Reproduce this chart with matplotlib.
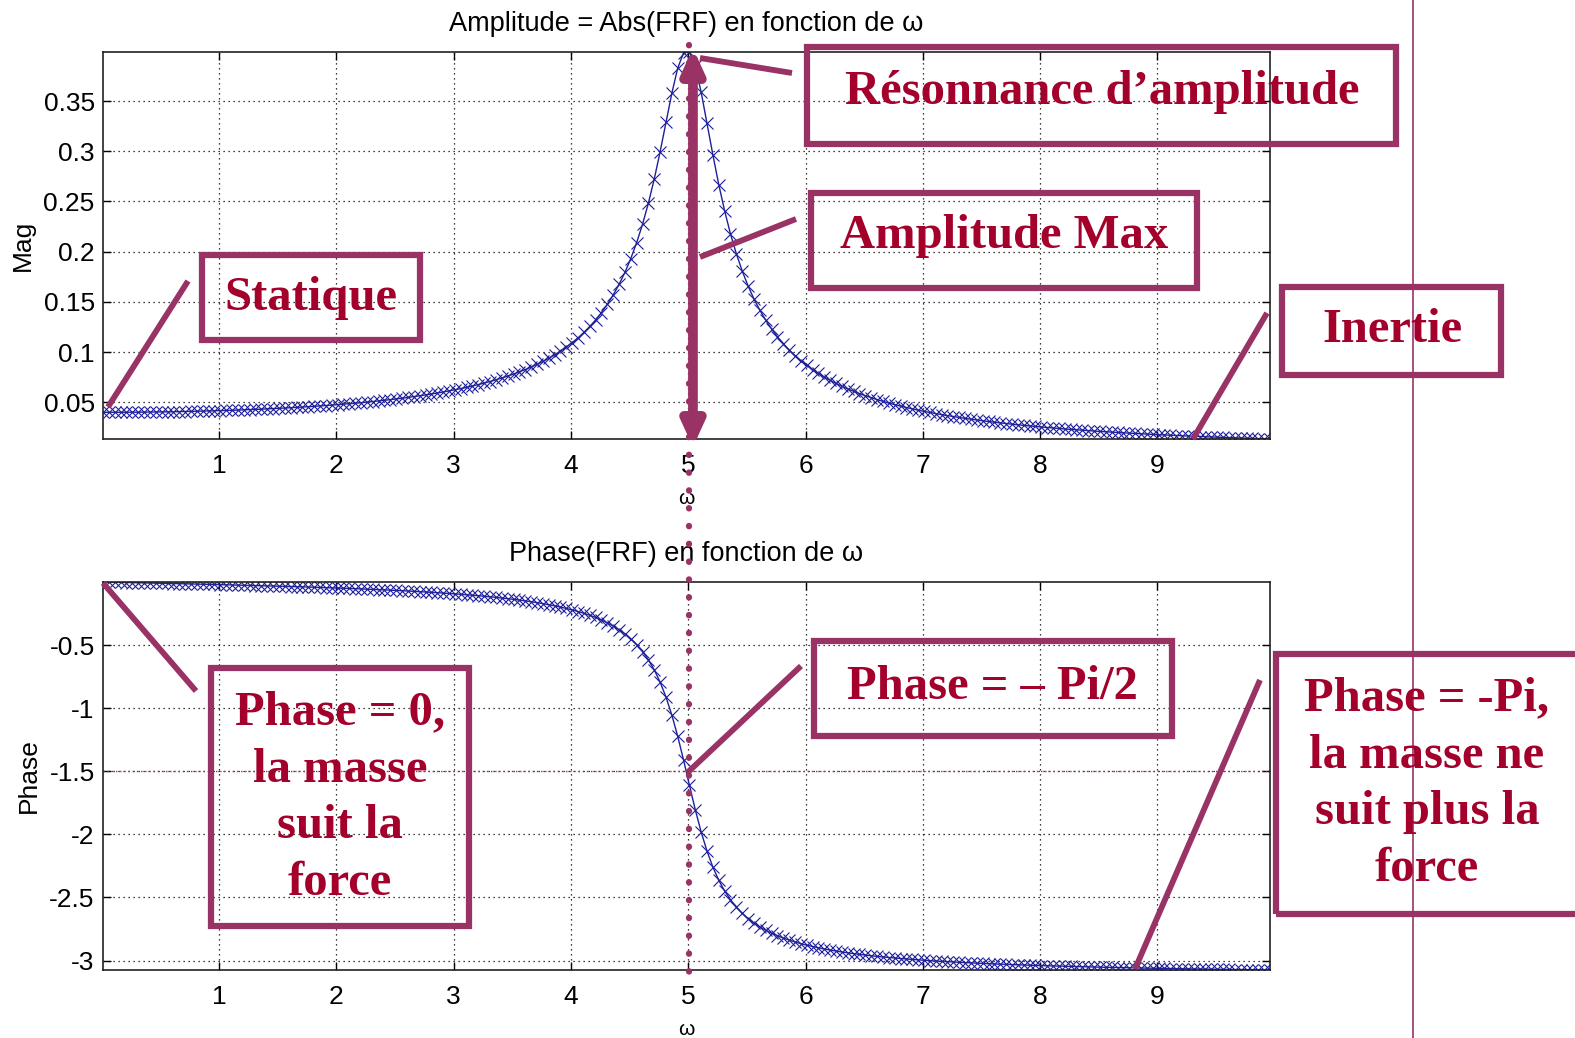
import numpy as np
import matplotlib
matplotlib.use("Agg")
import matplotlib.pyplot as plt
from matplotlib.lines import Line2D
from matplotlib.patches import Rectangle

# frequency response of the mass-spring-damper, sampled every 0.05 rad/s
omega = [
    0.01, 0.06, 0.11, 0.16, 0.21, 0.26, 0.31, 0.36, 0.41, 0.46,
    0.51, 0.56, 0.61, 0.66, 0.71, 0.76, 0.81, 0.86, 0.91, 0.96,
    1.01, 1.06, 1.11, 1.16, 1.21, 1.26, 1.31, 1.36, 1.41, 1.46,
    1.51, 1.56, 1.61, 1.66, 1.71, 1.76, 1.81, 1.86, 1.91, 1.96,
    2.01, 2.06, 2.11, 2.16, 2.21, 2.26, 2.31, 2.36, 2.41, 2.46,
    2.51, 2.56, 2.61, 2.66, 2.71, 2.76, 2.81, 2.86, 2.91, 2.96,
    3.01, 3.06, 3.11, 3.16, 3.21, 3.26, 3.31, 3.36, 3.41, 3.46,
    3.51, 3.56, 3.61, 3.66, 3.71, 3.76, 3.81, 3.86, 3.91, 3.96,
    4.01, 4.06, 4.11, 4.16, 4.21, 4.26, 4.31, 4.36, 4.41, 4.46,
    4.51, 4.56, 4.61, 4.66, 4.71, 4.76, 4.81, 4.86, 4.91, 4.96,
    5.01, 5.06, 5.11, 5.16, 5.21, 5.26, 5.31, 5.36, 5.41, 5.46,
    5.51, 5.56, 5.61, 5.66, 5.71, 5.76, 5.81, 5.86, 5.91, 5.96,
    6.01, 6.06, 6.11, 6.16, 6.21, 6.26, 6.31, 6.36, 6.41, 6.46,
    6.51, 6.56, 6.61, 6.66, 6.71, 6.76, 6.81, 6.86, 6.91, 6.96,
    7.01, 7.06, 7.11, 7.16, 7.21, 7.26, 7.31, 7.36, 7.41, 7.46,
    7.51, 7.56, 7.61, 7.66, 7.71, 7.76, 7.81, 7.86, 7.91, 7.96,
    8.01, 8.06, 8.11, 8.16, 8.21, 8.26, 8.31, 8.36, 8.41, 8.46,
    8.51, 8.56, 8.61, 8.66, 8.71, 8.76, 8.81, 8.86, 8.91, 8.96,
    9.01, 9.06, 9.11, 9.16, 9.21, 9.26, 9.31, 9.36, 9.41, 9.46,
    9.51, 9.56, 9.61, 9.66, 9.71, 9.76, 9.81, 9.86, 9.91, 9.96,
]

mag = [
    0.04000, 0.04001, 0.04002, 0.04004, 0.04007, 0.04011, 0.04015, 0.04021, 0.04027, 0.04034,
    0.04042, 0.04051, 0.04060, 0.04071, 0.04082, 0.04094, 0.04107, 0.04121, 0.04136, 0.04152,
    0.04169, 0.04187, 0.04206, 0.04226, 0.04247, 0.04270, 0.04293, 0.04318, 0.04343, 0.04371,
    0.04399, 0.04429, 0.04460, 0.04492, 0.04526, 0.04562, 0.04599, 0.04638, 0.04679, 0.04721,
    0.04766, 0.04812, 0.04860, 0.04911, 0.04964, 0.05019, 0.05077, 0.05137, 0.05200, 0.05266,
    0.05336, 0.05408, 0.05484, 0.05564, 0.05647, 0.05735, 0.05827, 0.05924, 0.06026, 0.06133,
    0.06246, 0.06365, 0.06490, 0.06623, 0.06764, 0.06913, 0.07071, 0.07239, 0.07418, 0.07608,
    0.07812, 0.08029, 0.08262, 0.08512, 0.08781, 0.09071, 0.09385, 0.09724, 0.1009, 0.1050,
    0.1094, 0.1142, 0.1196, 0.1255, 0.1320, 0.1394, 0.1476, 0.1569, 0.1674, 0.1794,
    0.1932, 0.2090, 0.2273, 0.2483, 0.2724, 0.2995, 0.3287, 0.3578, 0.3828, 0.3981,
    0.3989, 0.3845, 0.3589, 0.3279, 0.2964, 0.2669, 0.2407, 0.2177, 0.1979, 0.1808,
    0.1659, 0.1530, 0.1418, 0.1319, 0.1231, 0.1153, 0.1084, 0.1022, 0.09654, 0.09145,
    0.08681, 0.08259, 0.07871, 0.07515, 0.07187, 0.06883, 0.06601, 0.06340, 0.06096, 0.05868,
    0.05655, 0.05456, 0.05268, 0.05092, 0.04925, 0.04768, 0.04620, 0.04479, 0.04346, 0.04220,
    0.04100, 0.03985, 0.03876, 0.03772, 0.03673, 0.03579, 0.03488, 0.03401, 0.03318, 0.03239,
    0.03162, 0.03089, 0.03018, 0.02950, 0.02885, 0.02822, 0.02762, 0.02704, 0.02647, 0.02593,
    0.02540, 0.02490, 0.02441, 0.02393, 0.02347, 0.02303, 0.02260, 0.02218, 0.02178, 0.02138,
    0.02100, 0.02063, 0.02028, 0.01993, 0.01959, 0.01926, 0.01894, 0.01863, 0.01832, 0.01803,
    0.01774, 0.01746, 0.01719, 0.01693, 0.01667, 0.01641, 0.01617, 0.01593, 0.01569, 0.01546,
    0.01524, 0.01502, 0.01481, 0.01460, 0.01440, 0.01420, 0.01400, 0.01381, 0.01363, 0.01345,
]

phase = [
    -0.0002, -0.0012, -0.0022, -0.0032, -0.0042, -0.0052, -0.0062, -0.0072, -0.0083, -0.0093,
    -0.0103, -0.0113, -0.0124, -0.0134, -0.0145, -0.0156, -0.0166, -0.0177, -0.0188, -0.0199,
    -0.0211, -0.0222, -0.0234, -0.0245, -0.0257, -0.0269, -0.0281, -0.0294, -0.0306, -0.0319,
    -0.0332, -0.0346, -0.0359, -0.0373, -0.0387, -0.0402, -0.0416, -0.0431, -0.0447, -0.0463,
    -0.0479, -0.0496, -0.0513, -0.0531, -0.0549, -0.0567, -0.0587, -0.0606, -0.0627, -0.0648,
    -0.0670, -0.0693, -0.0716, -0.0741, -0.0766, -0.0792, -0.0820, -0.0848, -0.0878, -0.0909,
    -0.0941, -0.0975, -0.1011, -0.1048, -0.1088, -0.1129, -0.1173, -0.1219, -0.1268, -0.1320,
    -0.1375, -0.1434, -0.1497, -0.1564, -0.1636, -0.1714, -0.1798, -0.1888, -0.1986, -0.2094,
    -0.2211, -0.2340, -0.2482, -0.2640, -0.2812, -0.3013, -0.3237, -0.3490, -0.3781, -0.4115,
    -0.4506, -0.4967, -0.5514, -0.6170, -0.6965, -0.7934, -0.9115, -1.0542, -1.2223, -1.4115,
    -1.6107, -1.8050, -1.9813, -2.1330, -2.2594, -2.3633, -2.4484, -2.5186, -2.5767, -2.6255,
    -2.6668, -2.7022, -2.7327, -2.7592, -2.7824, -2.8030, -2.8212, -2.8376, -2.8523, -2.8656,
    -2.8777, -2.8887, -2.8988, -2.9080, -2.9166, -2.9244, -2.9318, -2.9386, -2.9449, -2.9509,
    -2.9565, -2.9617, -2.9666, -2.9712, -2.9756, -2.9797, -2.9836, -2.9873, -2.9909, -2.9942,
    -2.9974, -3.0004, -3.0034, -3.0061, -3.0088, -3.0113, -3.0138, -3.0161, -3.0183, -3.0205,
    -3.0226, -3.0246, -3.0265, -3.0284, -3.0301, -3.0319, -3.0335, -3.0351, -3.0367, -3.0382,
    -3.0397, -3.0411, -3.0425, -3.0438, -3.0451, -3.0463, -3.0476, -3.0487, -3.0499, -3.0510,
    -3.0521, -3.0532, -3.0542, -3.0552, -3.0562, -3.0571, -3.0581, -3.0590, -3.0599, -3.0607,
    -3.0616, -3.0624, -3.0632, -3.0640, -3.0648, -3.0655, -3.0663, -3.0670, -3.0677, -3.0684,
    -3.0691, -3.0697, -3.0704, -3.0710, -3.0716, -3.0722, -3.0728, -3.0734, -3.0740, -3.0746,
]

x_ticks = [1, 2, 3, 4, 5, 6, 7, 8, 9]
mag_ticks = [0.05, 0.1, 0.15, 0.2, 0.25, 0.3, 0.35]
mag_ticklabels = ["0.05", "0.1", "0.15", "0.2", "0.25", "0.3", "0.35"]
phase_ticks = [-3, -2.5, -2, -1.5, -1, -0.5]
phase_ticklabels = ["-3", "-2.5", "-2", "-1.5", "-1", "-0.5"]
phase_ref = -1.5

LINE_BLUE = "#1f1f99"
PLUM = "#993366"
TXT_RED = "#a3002b"

W, H = 1575, 1038
plt.rcParams["font.family"] = ["Liberation Sans", "DejaVu Sans"]
plt.rcParams["font.size"] = 19

fig = plt.figure(figsize=(W / 100, H / 100), dpi=100)


def fpos(x, y):
    # pixel position (origin top-left) -> figure fraction
    return x / W, 1 - y / H


def axes_at(left, top, right, bottom):
    x0, y0 = fpos(left, bottom)
    return fig.add_axes([x0, y0, (right - left) / W, (bottom - top) / H])


ax1 = axes_at(103, 52, 1270, 439)
ax2 = axes_at(103, 582, 1270, 970)

for ax in (ax1, ax2):
    ax.set_xlim(min(omega), max(omega))
    ax.set_xticks(x_ticks)
    ax.grid(True, linestyle=(0, (1, 3)), color="k", linewidth=0.9)
    ax.tick_params(direction="in", top=True, right=True, length=6,
                   width=1, labelsize=19)
    ax.tick_params(axis="x", pad=11)
    ax.tick_params(axis="y", pad=6)
    for sp in ax.spines.values():
        sp.set_linewidth(1.2)
        sp.set_color("#222222")

ax1.plot(omega, mag, color=LINE_BLUE, lw=1, marker="x", ms=8.5, mew=0.8)
ax1.set_ylim(min(mag), max(mag))
ax1.set_yticks(mag_ticks)
ax1.set_yticklabels(mag_ticklabels)
ax1.set_title("Amplitude = Abs(FRF) en fonction de ω", fontsize=19.5, pad=15)
ax1.set_xlabel("ω", fontsize=15, labelpad=8)
ax1.set_ylabel("Mag", fontsize=19, labelpad=6)

ax2.plot(omega, phase, color=LINE_BLUE, lw=1, marker="x", ms=8.5, mew=0.8)
ax2.set_ylim(min(phase), max(phase))
ax2.set_yticks(phase_ticks)
ax2.set_yticklabels(phase_ticklabels)
ax2.axhline(phase_ref, color=PLUM, lw=1, linestyle=(0, (1, 2)))
ax2.set_title("Phase(FRF) en fonction de ω", fontsize=19.5, pad=15)
ax2.set_xlabel("ω", fontsize=15, labelpad=8)
ax2.set_ylabel("Phase", fontsize=19, labelpad=6)

# resonance: peak of the magnitude curve
i_pk = int(np.argmax(mag))
w_pk = omega[i_pk]

# dotted marker line at the resonance, running through both panels
x_pk_fig = ax1.transData.transform((w_pk, 0))[0] / fig.dpi / fig.get_figwidth()
fig.add_artist(Line2D([x_pk_fig, x_pk_fig], [fpos(0, 45)[1], fpos(0, 974)[1]],
                      transform=fig.transFigure, color=PLUM, lw=4.5,
                      linestyle=(0, (0.05, 2.8)), dash_capstyle="round"))

# double arrow for the maximum amplitude
ax1.annotate("", xy=(w_pk + 0.03, max(mag) + 0.004),
             xytext=(w_pk + 0.03, min(mag) - 0.008),
             arrowprops=dict(arrowstyle="<|-|>,head_length=0.7,head_width=0.32",
                             lw=7, color=PLUM, mutation_scale=20,
                             shrinkA=0, shrinkB=0),
             annotation_clip=False)

# thin vertical rule on the right
fig.add_artist(Line2D([fpos(1413, 0)[0]] * 2, [0, 1], transform=fig.transFigure,
                      color=PLUM, lw=1.2))


def callout(box, text, text_xy, leader):
    (l, t, r, b) = box
    x0, y0 = fpos(l, b)
    fig.add_artist(Rectangle((x0, y0), (r - l) / W, (b - t) / H,
                             transform=fig.transFigure, fill=False,
                             edgecolor=PLUM, lw=4.5))
    (ax_, ay_), (bx_, by_) = leader
    p0, p1 = fpos(ax_, ay_), fpos(bx_, by_)
    fig.add_artist(Line2D([p0[0], p1[0]], [p0[1], p1[1]],
                          transform=fig.transFigure, color=PLUM, lw=4.2,
                          solid_capstyle="butt"))
    tx, ty = fpos(*text_xy)
    fig.text(tx, ty, text, ha="center", va="center", color=TXT_RED,
             fontsize=35, fontweight="bold", linespacing=1.38,
             family=["Liberation Serif", "DejaVu Serif"])


callout((807, 47, 1396, 144), "Résonnance d\u2019amplitude", (1102, 92),
        ((700, 58), (792, 73)))
callout((811, 193, 1197, 288), "Amplitude Max", (1004, 236),
        ((700, 257), (796, 219)))
callout((202, 255, 420, 340), "Statique", (311, 298),
        ((108, 407), (188, 281)))
callout((1282, 287, 1501, 375), "Inertie", (1392, 330),
        ((1193, 439), (1267, 313)))
callout((211, 668, 469, 926), "Phase = 0,\nla masse\nsuit la\nforce", (340, 798),
        ((103, 583), (196, 691)))
callout((814, 641, 1172, 736), "Phase = \u2013 Pi/2", (992, 687),
        ((687, 773), (801, 666)))
callout((1276, 654, 1590, 914), "Phase = -Pi,\nla masse ne\nsuit plus la\nforce",
        (1427, 784), ((1135, 969), (1260, 680)))

fig.savefig("out.png", dpi=100)
